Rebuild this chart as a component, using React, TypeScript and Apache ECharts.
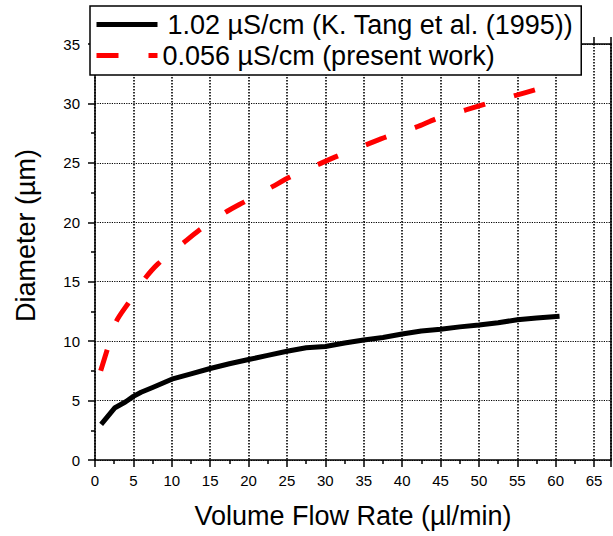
import React, { useEffect, useRef } from "react";
import * as echarts from "echarts";

// K. Tang et al. (1995), 1.02 µS/cm
const tangFlow = [0.8, 2.6, 4, 5, 6, 7.5, 10, 12.5, 15, 17.5, 20, 22.5, 25, 27.5, 30, 32.5, 35, 37.5, 40, 42.5, 45, 47.5, 50, 52.5, 55, 57.5, 60.5];
const tangDiameter = [3.0, 4.4, 4.9, 5.35, 5.7, 6.1, 6.8, 7.25, 7.7, 8.1, 8.45, 8.8, 9.15, 9.45, 9.55, 9.85, 10.1, 10.3, 10.6, 10.85, 11.0, 11.2, 11.35, 11.55, 11.8, 11.95, 12.1];

// present work, 0.056 µS/cm
const presentFlow = [0.74, 1.6, 2.73, 4.34, 6.3, 8.2, 11.4, 13.6, 16.9, 19.4, 23.1, 25.4, 29.2, 31.7, 35.6, 38.0, 41.8, 44.6, 48.3, 51.1, 54.9, 57.6];
const presentDiameter = [7.5, 9.3, 11.6, 13.2, 15.1, 16.5, 18.2, 19.35, 20.8, 21.7, 23.0, 23.8, 24.9, 25.6, 26.6, 27.2, 28.0, 28.75, 29.45, 30.0, 30.7, 31.2];

const seriesNames = ["1.02 µS/cm (K. Tang et al. (1995))", "0.056 µS/cm (present work)"];
const xTitle = "Volume Flow Rate (µl/min)";
const yTitle = "Diameter (µm)";

const X_MIN = 0;
const X_MAX = 67.2;
const Y_MIN = 0;
const Y_MAX = 35;
const STEP = 5;

export default function App() {
  const ref = useRef<HTMLDivElement>(null);

  useEffect(() => {
    if (!ref.current) return;
    const chart = echarts.init(ref.current, null, { renderer: "svg" });
    const font = "'Liberation Sans', Arial, Helvetica, sans-serif";
    const onStep = (v: number) => Math.abs(v / STEP - Math.round(v / STEP)) < 1e-6;

    const axisLine = { show: true, onZero: false, lineStyle: { color: "#000", width: 1.5 } };
    const tick = { show: true, inside: false, length: 7, lineStyle: { color: "#000", width: 1.5 } };
    const minor = { show: true, splitNumber: 2, length: 4, lineStyle: { color: "#000", width: 1.5 } };

    chart.setOption({
      animation: false,
      backgroundColor: "#ffffff",
      grid: { left: 95, right: 2, top: 44, bottom: 76, containLabel: false },
      legend: {
        orient: "vertical",
        left: 90,
        top: 6,
        itemWidth: 61,
        itemHeight: 14,
        itemGap: 4,
        padding: [5, 8, 6, 4],
        backgroundColor: "#ffffff",
        borderColor: "#000",
        borderWidth: 1.5,
        borderRadius: 0,
        z: 10,
        lineStyle: { width: 5 },
        itemStyle: { opacity: 0, borderWidth: 0 },
        textStyle: { fontSize: 27, color: "#000", fontFamily: font },
        data: [
          { name: seriesNames[0], textStyle: { padding: [0, 0, 0, 5] } },
          { name: seriesNames[1], textStyle: { padding: [0, 0, 0, 0] } },
        ],
      },
      xAxis: [
        {
          type: "value",
          position: "bottom",
          min: X_MIN,
          max: X_MAX,
          interval: STEP,
          name: xTitle,
          nameLocation: "middle",
          nameGap: 42,
          nameTextStyle: { fontSize: 27, color: "#000", fontFamily: font },
          axisLine,
          axisTick: tick,
          minorTick: minor,
          axisLabel: {
            fontSize: 15,
            color: "#000",
            fontFamily: font,
            margin: 13,
            showMaxLabel: false,
            formatter: (v: number) => (onStep(v) ? String(v) : ""),
          },
          splitLine: { show: true, lineStyle: { color: "#000", type: [1.5, 1.5], width: 1.6 } },
        },
        {
          type: "value",
          position: "top",
          min: X_MIN,
          max: X_MAX,
          interval: STEP,
          axisLine,
          axisTick: tick,
          minorTick: minor,
          axisLabel: { show: false },
          splitLine: { show: false },
        },
      ],
      yAxis: [
        {
          type: "value",
          position: "left",
          min: Y_MIN,
          max: Y_MAX,
          interval: STEP,
          name: yTitle,
          nameLocation: "middle",
          nameGap: 56,
          nameRotate: 90,
          nameTextStyle: { fontSize: 27, color: "#000", fontFamily: font, padding: [0, 0, 0, 33] },
          axisLine,
          axisTick: tick,
          minorTick: minor,
          axisLabel: { fontSize: 15, color: "#000", fontFamily: font, margin: 15 },
          splitLine: { show: true, lineStyle: { color: "#000", type: [1.2, 1.2], width: 1.2 } },
        },
        {
          type: "value",
          position: "right",
          min: Y_MIN,
          max: Y_MAX,
          interval: STEP,
          axisLine,
          axisTick: { show: false },
          axisLabel: { show: false },
          splitLine: { show: false },
        },
      ],
      series: [
        {
          name: seriesNames[0],
          type: "line",
          xAxisIndex: 0,
          yAxisIndex: 0,
          data: tangFlow.map((x, i) => [x, tangDiameter[i]]),
          symbol: "none",
          showSymbol: false,
          lineStyle: { color: "#000", width: 5, cap: "butt", join: "round" },
          itemStyle: { color: "#000" },
          z: 3,
        },
        {
          name: seriesNames[1],
          type: "line",
          xAxisIndex: 0,
          yAxisIndex: 0,
          data: presentFlow.map((x, i) => [x, presentDiameter[i]]),
          symbol: "none",
          showSymbol: false,
          smooth: 0.3,
          lineStyle: { color: "#ff0000", width: 5, type: [22, 30], cap: "butt" },
          itemStyle: { color: "#ff0000" },
          z: 4,
        },
      ],
    });

    return () => chart.dispose();
  }, []);

  return (
    <div
      ref={ref}
      style={{ position: "fixed", left: 0, top: 0, width: 613, height: 536, background: "#fff" }}
    />
  );
}
